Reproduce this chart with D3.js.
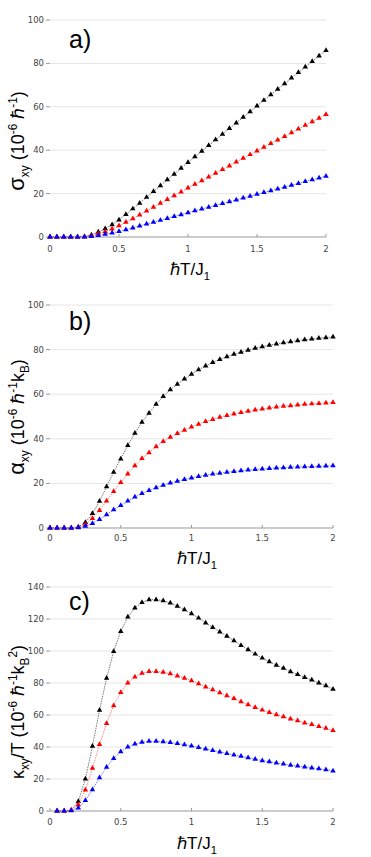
<!DOCTYPE html>
<html>
<head>
<meta charset="utf-8">
<script src="https://cdn.jsdelivr.net/npm/d3@7"></script>
<style>
  body { margin: 0; background: #fff; }
  svg { display: block; }
</style>
</head>
<body>
<svg id="chart" width="371" height="857"></svg>
<script>
// temperature grid (hbar T / J1)
const tempAB = [0, 0.05, 0.1, 0.15, 0.2, 0.25, 0.3, 0.35, 0.4, 0.45, 0.5, 0.55, 0.6, 0.65, 0.7, 0.75, 0.8, 0.85, 0.9, 0.95,
  1.0, 1.05, 1.1, 1.15, 1.2, 1.25, 1.3, 1.35, 1.4, 1.45, 1.5, 1.55, 1.6, 1.65, 1.7, 1.75, 1.8, 1.85, 1.9, 1.95, 2.0];
const tempC = [0.05, 0.1, 0.15, 0.2, 0.25, 0.3, 0.35, 0.4, 0.45, 0.5, 0.55, 0.6, 0.65, 0.7, 0.75, 0.8, 0.85, 0.9, 0.95,
  1.0, 1.05, 1.1, 1.15, 1.2, 1.25, 1.3, 1.35, 1.4, 1.45, 1.5, 1.55, 1.6, 1.65, 1.7, 1.75, 1.8, 1.85, 1.9, 1.95, 2.0];

// a) sigma_xy
const sigmaBlack = [0, 0, 0, 0, 0, 0.2, 1.0, 2.3, 3.8, 5.7, 7.9, 10.4, 13.0, 15.6, 18.3, 21.0, 23.7, 26.4, 29.0, 31.7, 34.4,
  37.0, 39.6, 42.2, 44.8, 47.4, 50.0, 52.6, 55.2, 57.8, 60.4, 63.0, 65.6, 68.1, 70.7, 73.3, 75.8, 78.4, 80.9, 83.5, 86.0];
const sigmaRed = [0, 0, 0, 0, 0, 0.1, 0.6, 1.5, 2.5, 3.7, 5.2, 6.8, 8.5, 10.2, 12.0, 13.8, 15.6, 17.3, 19.1, 20.8, 22.6,
  24.3, 26.0, 27.7, 29.4, 31.1, 32.8, 34.6, 36.3, 38.0, 39.7, 41.4, 43.1, 44.7, 46.4, 48.1, 49.8, 51.5, 53.1, 54.8, 56.5];
const sigmaBlue = [0, 0, 0, 0, 0, 0.05, 0.3, 0.75, 1.25, 1.85, 2.6, 3.4, 4.2, 5.1, 6.0, 6.8, 7.7, 8.6, 9.5, 10.3, 11.2,
  12.1, 12.9, 13.8, 14.6, 15.5, 16.3, 17.1, 18.0, 18.8, 19.7, 20.5, 21.4, 22.2, 23.0, 23.9, 24.7, 25.6, 26.4, 27.2, 28.0];

// b) alpha_xy
const alphaBlack = [0, 0, 0, 0, 0.5, 2.5, 6.5, 12.0, 18.5, 25.0, 31.0, 37.0, 42.5, 47.5, 51.5, 55.5, 59.0, 62.0, 64.5, 66.8, 69.0,
  71.0, 72.7, 74.2, 75.6, 76.8, 77.9, 78.9, 79.8, 80.6, 81.3, 82.0, 82.6, 83.1, 83.6, 84.0, 84.4, 84.8, 85.1, 85.4, 85.7];
const alphaRed = [0, 0, 0, 0, 0.3, 1.6, 4.3, 7.9, 12.2, 16.4, 20.4, 24.3, 27.9, 31.2, 33.8, 36.5, 38.8, 40.7, 42.4, 43.9, 45.3,
  46.6, 47.8, 48.7, 49.7, 50.5, 51.2, 51.8, 52.4, 53.0, 53.4, 53.9, 54.3, 54.6, 54.9, 55.2, 55.5, 55.7, 55.9, 56.1, 56.3];
const alphaBlue = [0, 0, 0, 0, 0.15, 0.8, 2.1, 3.9, 6.0, 8.2, 10.1, 12.1, 13.9, 15.5, 16.8, 18.1, 19.2, 20.2, 21.0, 21.8, 22.5,
  23.1, 23.7, 24.2, 24.6, 25.0, 25.4, 25.7, 26.0, 26.3, 26.5, 26.7, 26.9, 27.1, 27.3, 27.4, 27.5, 27.6, 27.7, 27.8, 27.9];

// c) kappa_xy / T
const kappaBlack = [0, 0, 0.5, 6, 20, 40.5, 63, 83, 99.8, 112.3, 121.3, 126.9, 130.4, 132.1, 132.1, 131.5, 130, 128, 125.8, 123.3,
  120.6, 117.5, 114.8, 112, 109.2, 106.5, 103.5, 100.8, 98.1, 95.6, 93.3, 91.2, 89.2, 87.1, 85.4, 83.5, 81.9, 80, 78.3, 76.2];
const kappaRed = [0, 0, 0.3, 4, 13.2, 26.7, 41.6, 54.8, 65.9, 74.1, 80.1, 83.8, 86.1, 87.2, 87.2, 86.8, 85.8, 84.5, 83.0, 81.4,
  79.6, 77.6, 75.8, 73.9, 72.1, 70.3, 68.3, 66.5, 64.7, 63.1, 61.6, 60.2, 58.9, 57.5, 56.4, 55.1, 54.1, 52.8, 51.7, 50.3];
const kappaBlue = [0, 0, 0.2, 2, 6.6, 13.4, 20.8, 27.4, 32.9, 37.1, 40.0, 41.9, 43.0, 43.6, 43.6, 43.4, 42.9, 42.2, 41.5, 40.7,
  39.8, 38.8, 37.9, 37.0, 36.0, 35.1, 34.2, 33.3, 32.4, 31.5, 30.8, 30.1, 29.4, 28.7, 28.2, 27.6, 27.0, 26.4, 25.8, 25.1];

const xTicks = [0, 0.5, 1, 1.5, 2];
const yTicksAB = [0, 20, 40, 60, 80, 100];
const yTicksC = [0, 20, 40, 60, 80, 100, 120, 140];

const markerColors = ["#000", "#f00", "#00f"];
const lineColors = ["#555", "#f66", "#55f"];

const svg = d3.select("#chart");
svg.append("rect").attr("width", 371).attr("height", 857).attr("fill", "#fff");

// writes a label made of pieces with sub/superscripts
function richText(text, parts, size) {
  let shift = 0;
  parts.forEach(p => {
    let target = 0;
    if (p.sub) target = size * 0.28;
    if (p.sup) target = -size * 0.4;
    text.append("tspan")
      .attr("dy", target - shift)
      .style("font-size", (p.sub || p.sup ? size * 0.66 : (p.size || size)) + "px")
      .text(p.t);
    shift = target;
  });
}

const panels = [
  {
    title: "a)", t: tempAB, series: [sigmaBlack, sigmaRed, sigmaBlue],
    x0: 50, x1: 326, yBot: 237, yTop: 20, yMax: 100, ticks: yTicksAB,
    titleY: 48, xTickY: 252, xLabelY: 275, xLabelCx: 190, yLabelCy: 141,
    ylabel: [{ t: "σ", size: 22 }, { t: "xy", sub: true }, { t: " (10" }, { t: "-6", sup: true }, { t: " ℏ" }, { t: "-1", sup: true }, { t: ")" }]
  },
  {
    title: "b)", t: tempAB, series: [alphaBlack, alphaRed, alphaBlue],
    x0: 50, x1: 333, yBot: 528, yTop: 305, yMax: 100, ticks: yTicksAB,
    titleY: 330, xTickY: 541, xLabelY: 564, xLabelCx: 197, yLabelCy: 417,
    ylabel: [{ t: "α", size: 22 }, { t: "xy", sub: true }, { t: " (10" }, { t: "-6", sup: true }, { t: " ℏ" }, { t: "-1", sup: true }, { t: "k" }, { t: "B", sub: true }, { t: ")" }]
  },
  {
    title: "c)", t: tempC, series: [kappaBlack, kappaRed, kappaBlue],
    x0: 50, x1: 333, yBot: 811, yTop: 587, yMax: 140, ticks: yTicksC,
    titleY: 610, xTickY: 825, xLabelY: 849, xLabelCx: 197, yLabelCy: 712,
    ylabel: [{ t: "κ" }, { t: "xy", sub: true }, { t: "/T (10" }, { t: "-6", sup: true }, { t: " ℏ" }, { t: "-1", sup: true }, { t: "k" }, { t: "B", sub: true }, { t: "2", sup: true }, { t: ")" }]
  }
];

panels.forEach(p => {
  const x = d3.scaleLinear().domain([0, 2]).range([p.x0, p.x1]);
  const y = d3.scaleLinear().domain([0, p.yMax]).range([p.yBot, p.yTop]);
  const g = svg.append("g");

  // horizontal grid
  g.selectAll(".grid")
    .data(p.ticks.filter(d => d > 0))
    .enter()
    .append("line")
    .attr("x1", p.x0).attr("x2", p.x1)
    .attr("y1", d => y(d)).attr("y2", d => y(d))
    .attr("stroke", "#e6e6e6").attr("stroke-width", 1);

  // y ticks + labels
  g.selectAll(".ytick")
    .data(p.ticks)
    .enter()
    .append("line")
    .attr("x1", 46).attr("x2", 50)
    .attr("y1", d => y(d)).attr("y2", d => y(d))
    .attr("stroke", "#999");
  g.selectAll(".ylab")
    .data(p.ticks)
    .enter()
    .append("text")
    .attr("x", 44).attr("y", d => y(d))
    .attr("dy", "0.35em")
    .attr("text-anchor", "end")
    .style("font-family", "DejaVu Sans, sans-serif")
    .style("font-size", "8.5px")
    .attr("fill", "#444")
    .text(d => d);

  // x axis
  g.append("line")
    .attr("x1", p.x0).attr("x2", p.x1)
    .attr("y1", p.yBot).attr("y2", p.yBot)
    .attr("stroke", "#999");
  g.selectAll(".xtick")
    .data(xTicks)
    .enter()
    .append("line")
    .attr("x1", d => x(d)).attr("x2", d => x(d))
    .attr("y1", p.yBot).attr("y2", p.yBot - 3)
    .attr("stroke", "#999");
  g.selectAll(".xlab")
    .data(xTicks)
    .enter()
    .append("text")
    .attr("x", d => x(d)).attr("y", p.xTickY)
    .attr("text-anchor", "middle")
    .style("font-family", "DejaVu Sans, sans-serif")
    .style("font-size", "8.5px")
    .attr("fill", "#444")
    .text(d => d);

  // series
  p.series.forEach((vals, i) => {
    const pts = vals.map((v, j) => ({ t: p.t[j], v: v }));
    const line = d3.line().x(d => x(d.t)).y(d => y(d.v));
    g.append("path")
      .datum(pts)
      .attr("d", line)
      .attr("fill", "none")
      .attr("stroke", lineColors[i])
      .attr("stroke-width", 0.8)
      .attr("stroke-dasharray", "1.5,1");
    g.selectAll(".m" + i)
      .data(pts)
      .enter()
      .append("path")
      .attr("d", d3.symbol().type(d3.symbolTriangle).size(13))
      .attr("transform", d => `translate(${x(d.t)},${y(d.v)})`)
      .attr("fill", markerColors[i]);
  });

  // panel title
  g.append("text")
    .attr("x", 69).attr("y", p.titleY)
    .style("font-family", "Liberation Sans, Arial, sans-serif")
    .style("font-size", "25px")
    .text(p.title);

  // x label
  const xl = g.append("text")
    .attr("x", p.xLabelCx).attr("y", p.xLabelY)
    .attr("text-anchor", "middle")
    .style("font-family", "Liberation Sans, Arial, sans-serif")
    .style("font-size", "17px");
  richText(xl, [{ t: "ℏT/J" }, { t: "1", sub: true }], 17);

  // y label
  const yl = g.append("text")
    .attr("transform", `translate(24,${p.yLabelCy}) rotate(-90)`)
    .attr("text-anchor", "middle")
    .style("font-family", "Liberation Sans, Arial, sans-serif")
    .style("font-size", "18px");
  richText(yl, p.ylabel, 18);
});
</script>
</body>
</html>
